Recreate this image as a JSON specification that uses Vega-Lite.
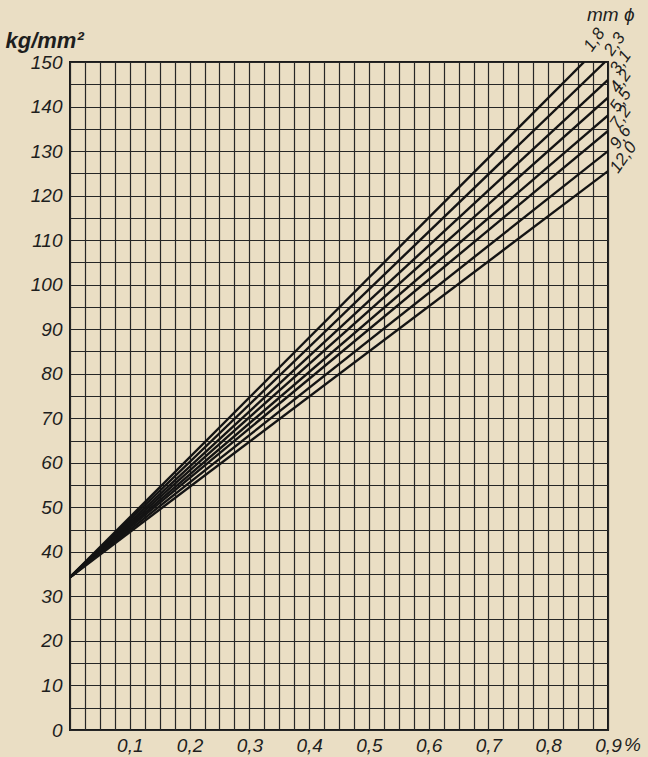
{
  "$schema": "https://vega.github.io/schema/vega-lite/v6.json",
  "width": 538,
  "height": 668,
  "autosize": {"type": "none"},
  "padding": {"left": 70, "top": 62, "right": 40, "bottom": 27},
  "background": "#eadec4",
  "config": {
    "view": {"stroke": "#1a1a1a", "strokeWidth": 2},
    "font": "Liberation Sans"
  },
  "datasets": {
    "curves": [
      {"d": "1,8", "x": 0, "y": 34.3}, {"d": "1,8", "x": 0.86, "y": 150},
      {"d": "2,3", "x": 0, "y": 34.3}, {"d": "2,3", "x": 0.895, "y": 150},
      {"d": "3,1", "x": 0, "y": 34.3}, {"d": "3,1", "x": 0.9, "y": 146},
      {"d": "4,2", "x": 0, "y": 34.3}, {"d": "4,2", "x": 0.9, "y": 142},
      {"d": "5,5", "x": 0, "y": 34.3}, {"d": "5,5", "x": 0.9, "y": 138},
      {"d": "7,2", "x": 0, "y": 34.3}, {"d": "7,2", "x": 0.9, "y": 134.5},
      {"d": "9,6", "x": 0, "y": 34.3}, {"d": "9,6", "x": 0.9, "y": 130},
      {"d": "12,0", "x": 0, "y": 34.3}, {"d": "12,0", "x": 0.9, "y": 125.5}
    ],
    "labels": [
      {"t": "1,8", "x": 0.866, "y": 152.8},
      {"t": "2,3", "x": 0.9, "y": 151.8},
      {"t": "3,1", "x": 0.91, "y": 147.8},
      {"t": "4,2", "x": 0.91, "y": 143.5},
      {"t": "5,5", "x": 0.91, "y": 139.2},
      {"t": "7,2", "x": 0.91, "y": 135.4},
      {"t": "9,6", "x": 0.91, "y": 130.9},
      {"t": "12,0", "x": 0.91, "y": 125.5}
    ],
    "notes": [
      {"t": "mm ϕ", "x": 0.9, "y": 150, "kind": "unit"},
      {"t": "%", "x": 0.9, "y": 0, "kind": "pct"}
    ]
  },
  "encoding": {
    "x": {
      "field": "x", "type": "quantitative",
      "scale": {"domain": [0, 0.9], "nice": false, "zero": true},
      "axis": {
        "title": null,
        "values": [0,0.025,0.05,0.075,0.1,0.125,0.15,0.175,0.2,0.225,0.25,0.275,0.3,0.325,0.35,0.375,0.4,0.425,0.45,0.475,0.5,0.525,0.55,0.575,0.6,0.625,0.65,0.675,0.7,0.725,0.75,0.775,0.8,0.825,0.85,0.875,0.9],
        "labelExpr": "(abs(datum.value*10 - round(datum.value*10)) < 0.001 && datum.value > 0.01) ? replace(format(datum.value, '.1f'), '.', ',') : ''",
        "grid": true, "gridColor": "#262626", "gridWidth": 1.2, "gridOpacity": 1,
        "ticks": false, "domain": false,
        "labelFont": "Liberation Sans", "labelFontStyle": "italic", "labelFontSize": 19,
        "labelColor": "#1e1e1e", "labelPadding": 6, "labelFlush": false, "labelOverlap": false
      }
    },
    "y": {
      "field": "y", "type": "quantitative",
      "scale": {"domain": [0, 150], "nice": false, "zero": true},
      "axis": {
        "values": [0,5,10,15,20,25,30,35,40,45,50,55,60,65,70,75,80,85,90,95,100,105,110,115,120,125,130,135,140,145,150],
        "labelExpr": "datum.value % 10 == 0 ? datum.label : ''",
        "grid": true, "gridColor": "#262626", "gridWidth": 1.2, "gridOpacity": 1,
        "ticks": false, "domain": false,
        "labelFont": "Liberation Sans", "labelFontStyle": "italic", "labelFontSize": 19,
        "labelColor": "#1e1e1e", "labelPadding": 8, "labelFlush": false, "labelOverlap": false,
        "title": "kg/mm²", "titleAngle": 0, "titleAlign": "left", "titleBaseline": "alphabetic",
        "titleX": -65, "titleY": -15, "titleFont": "Liberation Sans", "titleFontStyle": "italic",
        "titleFontSize": 22, "titleFontWeight": "bold", "titleColor": "#1e1e1e"
      }
    }
  },
  "layer": [
    {
      "data": {"name": "curves"},
      "mark": {"type": "line", "color": "#141414", "strokeWidth": 2.4, "clip": true},
      "encoding": {
        "detail": {"field": "d", "type": "nominal"}
      }
    },
    {
      "data": {"name": "labels"},
      "mark": {"type": "text", "angle": -55, "align": "left", "baseline": "middle", "fontSize": 17, "fontStyle": "italic", "font": "Liberation Sans", "color": "#1e1e1e"},
      "encoding": {
        "text": {"field": "t"}
      }
    },
    {
      "data": {"name": "notes"},
      "transform": [{"filter": "datum.kind == 'unit'"}],
      "mark": {"type": "text", "align": "left", "baseline": "alphabetic", "dx": -21, "dy": -41, "fontSize": 19, "fontStyle": "italic", "font": "Liberation Sans", "color": "#1e1e1e"},
      "encoding": {
        "text": {"field": "t"}
      }
    },
    {
      "data": {"name": "notes"},
      "transform": [{"filter": "datum.kind == 'pct'"}],
      "mark": {"type": "text", "align": "left", "baseline": "alphabetic", "dx": 16, "dy": 21, "fontSize": 19, "fontStyle": "italic", "font": "Liberation Sans", "color": "#1e1e1e"},
      "encoding": {
        "text": {"field": "t"}
      }
    }
  ]
}
